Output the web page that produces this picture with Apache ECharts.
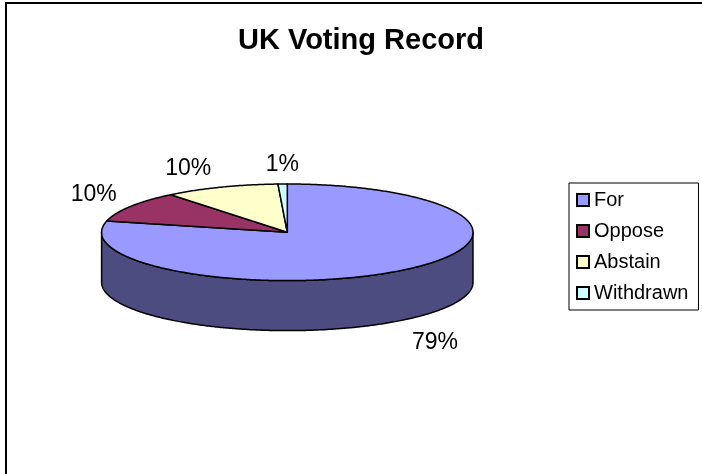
<!DOCTYPE html>
<html>
<head>
<meta charset="utf-8">
<script src="https://cdn.jsdelivr.net/npm/echarts@6/dist/echarts.min.js"></script>
<style>
html,body{margin:0;padding:0;background:#fff;}
#chart{width:702px;height:474px;}
</style>
</head>
<body>
<div id="chart"></div>
<script>
const title = 'UK Voting Record';
const categories = ['For', 'Oppose', 'Abstain', 'Withdrawn'];
const values = [78.8, 10.4, 10.0, 0.8];
const colors = ['#9999FF', '#993366', '#FFFFCC', '#CCFFFF'];
const sideColors = ['#4C4C80', '#4D1A33', '#808066', '#668080'];

const FONT = '"Liberation Sans", Arial, Helvetica, sans-serif';
const CX = 287.3, CY = 232.3, RX = 185.7, RY = 48.3, DEPTH = 50;
const total = values.reduce((a, b) => a + b, 0);

function pt(deg, dy) {
  const t = deg * Math.PI / 180;
  return [CX + RX * Math.sin(t), CY - RY * Math.cos(t) + (dy || 0)];
}

function makeRender(idx) {
  return function (params, api) {
    const v = api.value(0), before = api.value(1);
    const a0 = before / total * 360, a1 = (before + v) / total * 360;
    const children = [];
    // visible outer side (front half)
    const s = Math.max(a0, 90), e = Math.min(a1, 270);
    if (e > s) {
      const pts = [];
      for (let a = s; a < e; a += 0.5) pts.push(pt(a));
      pts.push(pt(e));
      for (let a = e; a > s; a -= 0.5) pts.push(pt(a, DEPTH));
      pts.push(pt(s, DEPTH));
      children.push({
        type: 'polygon', shape: { points: pts },
        style: { fill: sideColors[idx], stroke: '#000', lineWidth: 1.5, lineJoin: 'round' }
      });
    }
    // top face
    const tp = [[CX, CY]];
    for (let a = a0; a < a1; a += 0.5) tp.push(pt(a));
    tp.push(pt(a1));
    children.push({
      type: 'polygon', shape: { points: tp },
      style: { fill: colors[idx], stroke: '#000', lineWidth: 1.5, lineJoin: 'round' }
    });
    // label
    const mid = (a0 + a1) / 2 * Math.PI / 180;
    const sn = Math.sin(mid), cs = Math.cos(mid);
    const centered = Math.abs(sn) < 0.15;
    const lx = CX + (RX + 8) * sn + (centered ? 0 : (sn < 0 ? -7 : 5));
    const ly = cs > 0
      ? CY - (RY + 8) * cs + 8 * (1 - cs)
      : CY + (RY + 14) * (-cs) + DEPTH;
    children.push({
      type: 'text', x: lx, y: ly,
      style: {
        text: Math.round(v / total * 100) + '%',
        fontSize: 23, fontFamily: FONT, fill: '#000',
        align: centered ? 'center' : (sn < 0 ? 'right' : 'left'),
        verticalAlign: cs > 0 ? 'bottom' : 'top'
      }
    });
    return { type: 'group', children: children };
  };
}

const series = [];
let cum = 0;
categories.forEach((name, i) => {
  series.push({
    type: 'custom',
    name: name,
    coordinateSystem: 'none',
    itemStyle: { color: colors[i] },
    renderItem: makeRender(i),
    data: [[values[i], cum]]
  });
  cum += values[i];
});

const chart = echarts.init(document.getElementById('chart'), null, { renderer: 'canvas' });
chart.setOption({
  animation: false,
  backgroundColor: '#fff',
  title: {
    text: title,
    left: 356, top: 21,
    textAlign: 'center',
    textStyle: { fontSize: 29, fontWeight: 'bold', color: '#000', fontFamily: FONT }
  },
  legend: {
    data: categories,
    orient: 'vertical',
    left: 569, top: 183,
    icon: 'rect',
    itemWidth: 12, itemHeight: 12, itemGap: 11,
    padding: [7, 10, 7, 7],
    borderColor: '#000', borderWidth: 1,
    backgroundColor: '#fff',
    itemStyle: { borderColor: '#000', borderWidth: 2 },
    textStyle: { fontSize: 20, color: '#000', fontFamily: FONT, padding: [0, 0, 0, 0] }
  },
  graphic: [{
    type: 'rect',
    shape: { x: 6, y: 3, width: 800, height: 600 },
    style: { fill: null, stroke: '#000', lineWidth: 2 },
    silent: true
  }],
  series: series
});
</script>
</body>
</html>
